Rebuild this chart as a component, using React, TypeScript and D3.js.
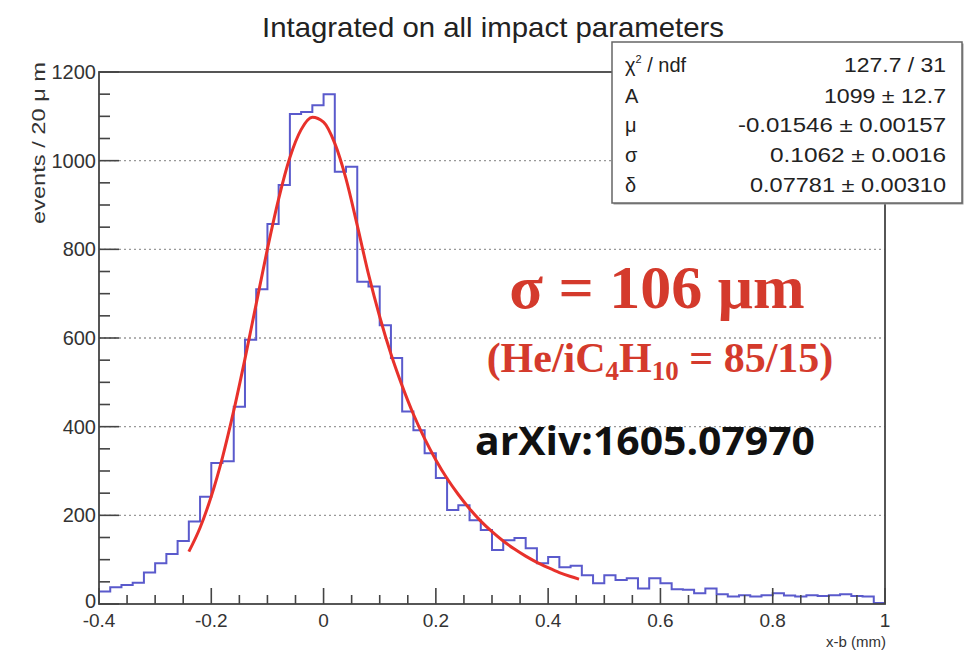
import { useEffect, useRef } from "react";
import * as d3 from "d3";

// contenidos por bin (ancho 0.02 mm, desde -0.4 hasta 1.0)
const binStart = -0.4;
const binWidth = 0.02;
const counts = [
  28, 38, 43, 48, 71, 92, 113, 142, 186, 242,
  318, 322, 445, 596, 710, 857, 945, 1105, 1110, 1125,
  1150, 975, 986, 727, 716, 629, 555, 434, 392, 340,
  284, 212, 223, 189, 167, 122, 144, 149, 126, 92,
  106, 83, 86, 65, 47, 65, 54, 58, 35, 58,
  47, 33, 32, 24, 35, 22, 17, 20, 17, 20,
  24, 19, 17, 20, 18, 20, 22, 18, 17, 2,
];

// curva de ajuste (roja)
const fitX = [
  -0.24, -0.22, -0.2, -0.18, -0.16, -0.14, -0.12, -0.1, -0.08, -0.06,
  -0.04, -0.02, 0.0, 0.02, 0.04, 0.06, 0.08, 0.1, 0.12, 0.14,
  0.16, 0.18, 0.2, 0.22, 0.24, 0.26, 0.28, 0.3, 0.32, 0.34,
  0.36, 0.38, 0.4, 0.42, 0.44, 0.455,
];
const fitY = [
  118, 172, 243, 331, 436, 553, 677, 801, 914, 1007,
  1070, 1098, 1087, 1039, 959, 854, 744, 648, 564, 492,
  428, 373, 325, 283, 247, 215, 187, 163, 142, 124,
  108, 94, 82, 71, 62, 56,
];

const yTicks = [0, 200, 400, 600, 800, 1000, 1200];
const xTicks = [-0.4, -0.2, 0, 0.2, 0.4, 0.6, 0.8, 1];
const xTickLabels = ["-0.4", "-0.2", "0", "0.2", "0.4", "0.6", "0.8", "1"];

const statsLabels = ["χ2 / ndf", "A", "μ", "σ", "δ"];
const statsValues = ["127.7 / 31", "1099 ± 12.7", "-0.01546 ± 0.00157", "0.1062 ± 0.0016", "0.07781 ± 0.00310"];
const statsWidths = [102, 122, 208, 176, 196];

const Chart = () => {
  const ref = useRef<SVGSVGElement | null>(null);

  useEffect(() => {
    if (!ref.current) return;
    const svg = d3.select(ref.current);
    svg.selectAll("*").remove();

    const W = 970;
    const H = 652;
    svg.attr("width", W).attr("height", H);
    svg.append("rect").attr("width", W).attr("height", H).attr("fill", "#fff");

    const x = d3.scaleLinear().domain([-0.4, 1]).range([99, 885]);
    const y = d3.scaleLinear().domain([0, 1200]).range([604, 72]);

    const sans = "'Liberation Sans', Arial, sans-serif";

    // grid horizontal punteado
    svg.append("g")
      .selectAll("line")
      .data(yTicks.filter((t) => t > 0 && t < 1200))
      .enter()
      .append("line")
      .attr("x1", x(-0.4))
      .attr("x2", x(1))
      .attr("y1", (d) => y(d))
      .attr("y2", (d) => y(d))
      .attr("stroke", "#999")
      .attr("stroke-width", 1.4)
      .attr("stroke-dasharray", "2,3");

    // histograma (escalones)
    const pts: [number, number][] = counts.map((c, i) => [binStart + i * binWidth, c]);
    pts.push([binStart + counts.length * binWidth, counts[counts.length - 1]]);
    const step = d3.line<[number, number]>()
      .x((d) => x(d[0]))
      .y((d) => y(d[1]))
      .curve(d3.curveStepAfter);
    svg.append("path")
      .datum(pts)
      .attr("fill", "none")
      .attr("stroke", "#5a5acc")
      .attr("stroke-width", 2)
      .attr("d", step);

    // ajuste
    const fitLine = d3.line<number>()
      .x((d, i) => x(fitX[i]))
      .y((d) => y(d))
      .curve(d3.curveMonotoneX);
    svg.append("path")
      .datum(fitY)
      .attr("fill", "none")
      .attr("stroke", "#e8312b")
      .attr("stroke-width", 3)
      .attr("d", fitLine);

    // marco
    svg.append("rect")
      .attr("x", x(-0.4))
      .attr("y", y(1200))
      .attr("width", x(1) - x(-0.4))
      .attr("height", y(0) - y(1200))
      .attr("fill", "none")
      .attr("stroke", "#444")
      .attr("stroke-width", 1.8);

    // ticks eje y
    const yMinor = d3.range(0, 1201, 50);
    svg.append("g")
      .selectAll("line")
      .data(yMinor)
      .enter()
      .append("line")
      .attr("x1", x(-0.4))
      .attr("x2", (d) => x(-0.4) + (d % 200 === 0 ? 20 : 11))
      .attr("y1", (d) => y(d))
      .attr("y2", (d) => y(d))
      .attr("stroke", "#444")
      .attr("stroke-width", 1.6);

    svg.append("g")
      .selectAll("text")
      .data(yTicks)
      .enter()
      .append("text")
      .attr("x", x(-0.4) - 3)
      .attr("y", (d) => y(d) + (d === 0 ? 4 : 7))
      .attr("text-anchor", "end")
      .style("font-family", sans)
      .style("font-size", "20px")
      .style("fill", "#333")
      .text((d) => String(d));

    // ticks eje x
    const xMinor = d3.range(0, 29).map((i) => -0.4 + i * 0.05);
    svg.append("g")
      .selectAll("line")
      .data(xMinor)
      .enter()
      .append("line")
      .attr("x1", (d) => x(d))
      .attr("x2", (d) => x(d))
      .attr("y1", y(0))
      .attr("y2", (d, i) => y(0) - (i % 4 === 0 ? 16 : 9))
      .attr("stroke", "#444")
      .attr("stroke-width", 1.6);

    svg.append("g")
      .selectAll("text")
      .data(xTicks)
      .enter()
      .append("text")
      .attr("x", (d) => x(d))
      .attr("y", 627)
      .attr("text-anchor", "middle")
      .style("font-family", sans)
      .style("font-size", "19px")
      .style("fill", "#333")
      .text((d, i) => xTickLabels[i]);

    // títulos
    svg.append("text")
      .attr("x", 493)
      .attr("y", 37)
      .attr("text-anchor", "middle")
      .style("font-family", sans)
      .style("font-size", "28px")
      .style("fill", "#222")
      .attr("textLength", 462)
      .attr("lengthAdjust", "spacingAndGlyphs")
      .text("Intagrated on all impact parameters");

    svg.append("text")
      .attr("x", 886)
      .attr("y", 647)
      .attr("text-anchor", "end")
      .style("font-family", sans)
      .style("font-size", "15px")
      .style("fill", "#333")
      .text("x-b (mm)");

    svg.append("text")
      .attr("transform", "translate(45,62) rotate(-90)")
      .attr("text-anchor", "end")
      .style("font-family", sans)
      .style("font-size", "18px")
      .style("fill", "#333")
      .attr("textLength", 162)
      .attr("lengthAdjust", "spacingAndGlyphs")
      .text("events / 20 μ m");

    // caja de estadísticas
    const box = svg.append("g");
    box.append("rect")
      .attr("x", 613.5)
      .attr("y", 43.5)
      .attr("width", 350)
      .attr("height", 161)
      .attr("fill", "#999");
    box.append("rect")
      .attr("x", 612)
      .attr("y", 42)
      .attr("width", 350)
      .attr("height", 161)
      .attr("fill", "#fff")
      .attr("stroke", "#666")
      .attr("stroke-width", 1.5);

    const rowY = [72, 103, 132, 162, 192];
    statsLabels.forEach((lab, i) => {
      const t = box.append("text")
        .attr("x", 625)
        .attr("y", rowY[i])
        .style("font-family", sans)
        .style("font-size", "20px")
        .style("fill", "#222");
      if (i === 0) {
        t.append("tspan").text("χ");
        t.append("tspan").attr("dy", -9).style("font-size", "11px").text("2");
        t.append("tspan").attr("dy", 9).text(" / ndf");
      } else {
        t.text(lab);
      }
      box.append("text")
        .attr("x", 946)
        .attr("y", rowY[i])
        .attr("text-anchor", "end")
        .style("font-family", sans)
        .style("font-size", "20px")
        .style("fill", "#222")
        .attr("textLength", statsWidths[i])
        .attr("lengthAdjust", "spacingAndGlyphs")
        .text(statsValues[i]);
    });

    // anotaciones
    const serif = "'Liberation Serif', 'Times New Roman', serif";
    svg.append("text")
      .attr("x", 657)
      .attr("y", 308)
      .attr("text-anchor", "middle")
      .style("font-family", serif)
      .style("font-weight", "bold")
      .style("font-size", "62px")
      .style("fill", "#d43a2c")
      .text("σ = 106 μm");

    const gas = svg.append("text")
      .attr("x", 660)
      .attr("y", 372)
      .attr("text-anchor", "middle")
      .style("font-family", serif)
      .style("font-weight", "bold")
      .style("font-size", "42px")
      .style("fill", "#d43a2c");
    gas.append("tspan").text("(He/iC");
    gas.append("tspan").attr("dy", 8).style("font-size", "27px").text("4");
    gas.append("tspan").attr("dy", -8).text("H");
    gas.append("tspan").attr("dy", 8).style("font-size", "27px").text("10");
    gas.append("tspan").attr("dy", -8).text(" = 85/15)");

    svg.append("text")
      .attr("x", 645)
      .attr("y", 455)
      .attr("text-anchor", "middle")
      .style("font-family", "'Open Sans', sans-serif")
      .style("font-weight", "bold")
      .style("font-size", "39px")
      .style("fill", "#111")
      .attr("textLength", 340)
      .attr("lengthAdjust", "spacingAndGlyphs")
      .text("arXiv:1605.07970");
  }, []);

  return <svg ref={ref} style={{ position: "absolute", left: 0, top: 0 }} />;
};

export default function App() {
  return <Chart />;
}
